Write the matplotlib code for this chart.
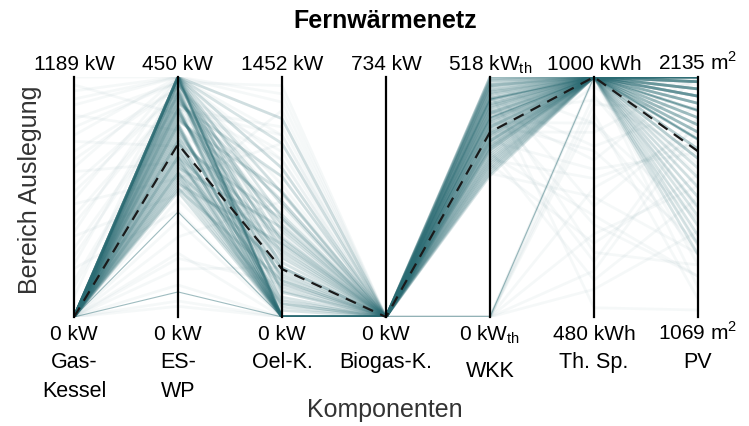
import numpy as np
import matplotlib
matplotlib.use('Agg')
import matplotlib.pyplot as plt
from matplotlib.transforms import blended_transform_factory

plt.rcParams['font.family'] = ['Liberation Sans', 'DejaVu Sans']
plt.rcParams['mathtext.fontset'] = 'custom'
plt.rcParams['mathtext.rm'] = 'Liberation Sans'

# --------------------------
# Achsen / Komponenten
# --------------------------
komponenten = ['Gas-\nKessel', 'ES-\nWP', 'Oel-K.', 'Biogas-K.', 'WKK', 'Th. Sp.', 'PV']
label_max = ['1189 kW', '450 kW', '1452 kW', '734 kW', '518 kW$_\\mathregular{th}$',
             '1000 kWh', '2135 m$^\\mathregular{2}$']
label_min = ['0 kW', '0 kW', '0 kW', '0 kW', '0 kW$_\\mathregular{th}$',
             '480 kWh', '1069 m$^\\mathregular{2}$']
ax_min = [0, 0, 0, 0, 0, 480, 1069]
ax_max = [1189, 450, 1452, 734, 518, 1000, 2135]

# --------------------------
# Hauptgruppe der Loesungen
# --------------------------
gas_main = [0, 0, 0, 0, 0, 0, 0, 0, 0, 0, 0,
            0, 0, 0, 0, 0, 0, 0, 0, 0, 0, 0,
            0, 0, 0, 0, 0, 0, 0, 0, 0, 0, 0,
            0, 0, 0, 0, 0, 0, 0, 0, 0, 0, 0,
            0, 0, 0, 0, 0, 0, 0, 0, 0, 0, 0,
            0, 0, 0, 0, 0, 0, 0, 0, 0, 0, 0]
eswp_main = [450, 450, 450, 420, 390, 360, 450, 450, 450, 450, 450,
             450, 450, 450, 330, 300, 270, 444, 442, 440, 438, 436,
             432, 428, 424, 420, 416, 412, 408, 404, 400, 396, 392,
             388, 384, 380, 376, 372, 368, 364, 360, 355, 350, 345,
             340, 335, 330, 325, 320, 315, 310, 305, 300, 295, 290,
             285, 280, 275, 270, 265, 260, 255, 250, 245, 240, 235]
oel_main = [0, 0, 0, 0, 0, 0, 150, 300, 450, 600, 750,
            900, 1050, 1200, 0, 0, 0, 80, 220, 380, 520, 680,
            0, 0, 40, 160, 280, 420, 560, 700, 850, 0, 0,
            120, 240, 360, 480, 620, 760, 0, 0, 60, 200, 330,
            0, 470, 0, 590, 100, 0, 260, 0, 400, 0, 180,
            0, 540, 0, 300, 0, 80, 0, 440, 0, 220, 0]
biogas_main = [0, 0, 0, 0, 0, 0, 0, 0, 0, 0, 0,
               0, 0, 0, 0, 0, 0, 0, 0, 0, 0, 0,
               0, 0, 0, 0, 0, 0, 0, 0, 0, 0, 0,
               0, 0, 0, 0, 0, 0, 0, 0, 0, 0, 0,
               0, 0, 0, 0, 0, 0, 0, 0, 0, 0, 0,
               0, 0, 0, 0, 0, 0, 0, 0, 0, 0, 0]
wkk_main = [518, 510, 500, 490, 480, 470, 460, 450, 440, 430, 420,
            410, 400, 390, 380, 370, 360, 350, 340, 330, 320, 310,
            515, 505, 495, 485, 475, 465, 455, 445, 435, 425, 415,
            405, 395, 385, 375, 365, 355, 345, 335, 325, 315, 305,
            512, 498, 482, 468, 452, 438, 422, 408, 392, 378, 362,
            518, 502, 488, 472, 458, 442, 428, 412, 398, 382, 368]
thsp_main = [1000, 1000, 1000, 1000, 1000, 1000, 1000, 1000, 1000, 1000, 1000,
             1000, 1000, 1000, 1000, 1000, 1000, 1000, 1000, 1000, 1000, 1000,
             1000, 1000, 1000, 1000, 1000, 1000, 1000, 1000, 1000, 1000, 1000,
             1000, 1000, 1000, 1000, 1000, 1000, 1000, 1000, 1000, 1000, 1000,
             1000, 1000, 1000, 1000, 1000, 1000, 1000, 1000, 1000, 1000, 1000,
             1000, 1000, 1000, 1000, 1000, 1000, 1000, 1000, 1000, 1000, 1000]
pv_main = [2135, 2135, 2135, 2135, 2135, 2135, 2114, 2114, 2114, 2082, 2082,
           2082, 2050, 2050, 2050, 2018, 2018, 1986, 1986, 1954, 1954, 1922,
           2135, 2135, 2135, 2114, 2114, 2082, 2050, 2018, 1922, 1890, 1890,
           1858, 1858, 1815, 1815, 1773, 1730, 1687, 1645, 1602, 1559, 1517,
           2135, 2135, 2114, 2082, 2050, 2018, 1986, 1954, 1474, 1431, 1389,
           2135, 2135, 2135, 2114, 2082, 2050, 1922, 1890, 1858, 1346, 1773]

# --------------------------
# seltene Loesungen (blass)
# --------------------------
gas_faint = [1189, 1120, 1050, 980, 900, 820, 740, 660, 580, 500,
             420, 340, 260, 180, 100, 0, 0, 0, 0, 0,
             1150, 1000, 870, 720, 560, 400, 240, 0, 0, 0,
             1080, 940, 780, 620, 460, 300, 150, 0, 0, 0]
eswp_faint = [450, 450, 450, 440, 450, 430, 450, 420, 450, 410,
              450, 400, 440, 390, 450, 180, 120, 60, 220, 300,
              380, 350, 320, 290, 260, 230, 200, 90, 150, 30,
              450, 440, 430, 420, 410, 400, 390, 240, 20, 110]
oel_faint = [1300, 1100, 900, 700, 500, 300, 1200, 1000, 800, 600,
             400, 200, 1400, 1150, 950, 0, 0, 0, 100, 0,
             850, 650, 450, 250, 1050, 1250, 0, 300, 700, 0,
             1350, 750, 550, 350, 150, 950, 1100, 500, 0, 200]
biogas_faint = [0, 0, 0, 0, 0, 0, 0, 0, 0, 0,
                0, 0, 0, 0, 0, 0, 0, 0, 0, 0,
                0, 0, 0, 0, 0, 0, 0, 0, 0, 0,
                0, 0, 0, 0, 0, 0, 0, 0, 0, 0]
wkk_faint = [0, 480, 330, 420, 0, 360, 470, 500, 350, 440,
             0, 380, 500, 320, 450, 0, 460, 340, 410, 400,
             340, 0, 470, 360, 390, 500, 0, 510, 330, 420,
             0, 450, 380, 370, 490, 0, 430, 310, 0, 460]
thsp_faint = [1000, 620, 1000, 900, 760, 1000, 850, 1000, 700, 950,
              540, 1000, 900, 1000, 820, 660, 1000, 980, 600, 880,
              780, 920, 1000, 560, 1000, 720, 960, 1000, 640, 840,
              1000, 680, 800, 1000, 500, 940, 1000, 740, 580, 1000]
pv_faint = [1700, 1300, 2135, 1500, 1900, 1400, 2000, 1600, 1250, 1800,
            1450, 2100, 1350, 1550, 2135, 1650, 1200, 1750, 1950, 2135,
            1850, 1150, 2050, 1600, 1300, 1950, 1500, 2135, 1700, 1400,
            2135, 1250, 1800, 1550, 1100, 2000, 1650, 1350, 1900, 2135]

# einzelne deutlichere Linien
gas_dark = [0, 0, 0]
eswp_dark = [450, 197, 47]
oel_dark = [0, 0, 0]
biogas_dark = [0, 0, 0]
wkk_dark = [0, 430, 470]
thsp_dark = [1000, 1000, 1000]
pv_dark = [2135, 1858, 1986]

# gewaehlte Auslegung (gestrichelt)
auslegung = [0, 324, 290, 0, 399, 1000, 1805]

groups = [
    (np.column_stack([gas_faint, eswp_faint, oel_faint, biogas_faint,
                      wkk_faint, thsp_faint, pv_faint]), 0.045, 2.0),
    (np.column_stack([gas_main, eswp_main, oel_main, biogas_main,
                      wkk_main, thsp_main, pv_main]), 0.18, 2.0),
    (np.column_stack([gas_dark, eswp_dark, oel_dark, biogas_dark,
                      wkk_dark, thsp_dark, pv_dark]), 0.45, 0.8),
]

lo = np.array(ax_min, dtype=float)
hi = np.array(ax_max, dtype=float)
xs = np.arange(len(komponenten))
teal = '#2a6b73'

# ==========================
# Figur
# ==========================
W, H = 749, 427
fig = plt.figure(figsize=(W / 100, H / 100), dpi=100)
ax = fig.add_axes([74 / W, 1 - 318 / H, 624 / W, 240 / H])
ax.set_xlim(0, len(komponenten) - 1)
ax.set_ylim(0, 1)
ax.axis('off')

for data, a, lw in groups:
    norm = (data - lo) / (hi - lo)
    for row in norm:
        ax.plot(xs, row, color=teal, alpha=a, lw=lw)

ax.plot(xs, (np.array(auslegung) - lo) / (hi - lo), color='#1a1a1a',
        lw=1.6, ls=(0, (5, 3.5)), clip_on=False, zorder=5)

for x in xs:
    ax.plot([x, x], [0, 1], color='black', lw=1.6, clip_on=False, zorder=6)

# Beschriftungen
tr = blended_transform_factory(ax.transData, fig.transFigure)
fy = lambda p: 1 - p / H

for x, t in zip(xs, label_max):
    ax.text(x, fy(70), t, transform=tr, ha='center', va='baseline', fontsize=15)
for x, t in zip(xs, label_min):
    ax.text(x, fy(340), t, transform=tr, ha='center', va='baseline', fontsize=15)
for x, t in zip(xs, komponenten):
    yb = 377 if t == 'WKK' else 368
    for k, part in enumerate(t.split('\n')):
        ax.text(x, fy(yb + 29 * k), part, transform=tr, ha='center',
                va='baseline', fontsize=15.5)

fig.text(385 / W, fy(28), 'Fernwärmenetz', ha='center', va='baseline',
         fontsize=18, fontweight='bold')
fig.text(385 / W, fy(417), 'Komponenten', ha='center', va='baseline',
         fontsize=18, color='#333333')
fig.text(30 / W, fy(190), 'Bereich Auslegung', ha='center', va='center',
         rotation=90, fontsize=18, color='#333333')

fig.savefig('out.png', dpi=100)
